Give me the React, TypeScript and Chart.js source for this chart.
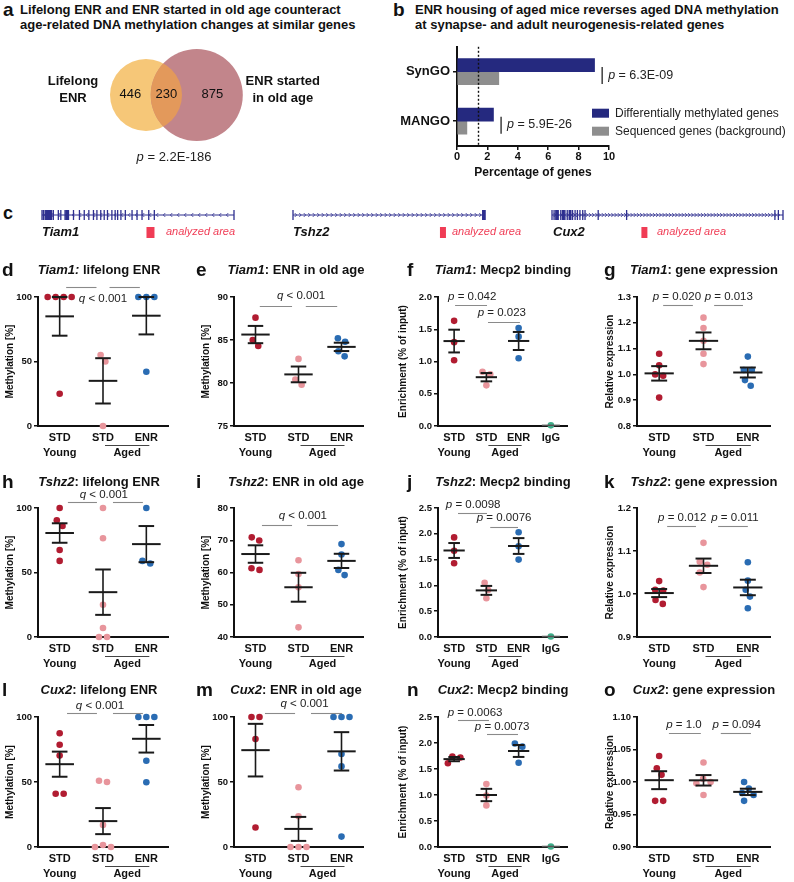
import React, { useEffect, useRef } from "react";
import { Chart, registerables } from "chart.js";

Chart.register(...registerables);

const FONT = '"Liberation Sans", Arial, Helvetica, sans-serif';
Chart.defaults.font.family = FONT;
Chart.defaults.color = "#111";

/* ===================== DATA ===================== */
// a – Venn
const vennLabels = ["Lifelong ENR", "ENR started in old age"];
const vennOnlyLifelong = 446;
const vennShared = 230;
const vennOnlyOldAge = 875;
const vennPValue = "2.2E-186";

// b – bar chart
const bCategories = ["SynGO", "MANGO"];
const bSeriesNames = ["Differentially methylated genes", "Sequenced genes (background)"];
const bDiffMethylated = [9.05, 2.4];
const bBackground = [2.75, 0.65];
const bPValues = ["6.3E-09", "5.9E-26"];
const bReferenceLine = 1.35;
const bAxisTitle = "Percentage of genes";

// c – gene models (exon positions in % of gene length)
const geneNames = ["Tiam1", "Tshz2", "Cux2"];
const tiam1Exons = [0, 0.7, 1.6, 2.4, 3.3, 4.2, 5.0, 5.9, 8.5, 9.8, 12.0, 12.9, 13.8, 16.4, 19.5, 22.0, 24.4, 26.8, 28.6, 30.6, 32.4, 34.1, 36.4, 38.1, 39.4, 41.1, 43.4, 46.9, 49.5, 52.1, 55.6, 58.5, 100];
const tiam1Thick = [2.4, 3.3, 4.2, 12.9];
const tshz2Exons = [0, 98.8, 99.4, 100];
const tshz2Thick = [99.4];
const cux2Exons = [0, 0.9, 2.0, 2.7, 3.8, 4.9, 5.6, 6.6, 7.8, 8.9, 10.0, 11.0, 12.1, 13.3, 14.3, 20.0, 32.3, 96.5, 98.0, 100];
const cux2Thick = [2.0, 4.9, 7.8];
const analyzedAreaPos = [56.5, 78.1, 40.0];
const analyzedLabel = "analyzed area";

// d–o – categories
const catLabels3 = ["STD", "STD", "ENR"];
const catLabels4 = ["STD", "STD", "ENR", "IgG"];
const groupLabels = ["Young", "Aged"];
const yTitleMeth = "Methylation [%]";
const yTitleEnrich = "Enrichment (% of input)";
const yTitleExpr = "Relative expression";

// d
const dYoung = [100, 100, 100, 100, 25];
const dAgedStd = [55, 50, 0];
const dAgedEnr = [100, 100, 100, 42];
const dBrackets = [[0.15, 0.85, 107.7], [1.15, 1.85, 107.7]];
const dStats = [[1.0, 98.5, "q", " < 0.001"]];
// e
const eYoung = [87.6, 85.0, 84.3];
const eAgedStd = [82.8, 80.4, 79.8];
const eAgedEnr = [85.2, 84.8, 83.7, 83.1];
const eBrackets = [[0.1, 0.85, 88.95], [1.17, 1.9, 88.95]];
const eStats = [[1.06, 90.1, "q", " < 0.001"]];
// f
const fYoung = [1.63, 1.30, 1.02];
const fAgedStd = [0.84, 0.80, 0.63];
const fAgedEnr = [1.52, 1.385, 1.05];
const fIgG = [0.01];
const fBrackets = [[0.03, 1.02, 1.876], [1.05, 2.04, 1.612]];
const fStats = [[0.56, 2.0, "p", " = 0.042"], [1.48, 1.752, "p", " = 0.023"]];
// g
const gYoung = [1.08, 1.035, 1.0, 0.995, 0.91];
const gAgedStd = [1.22, 1.18, 1.13, 1.08, 1.04];
const gAgedEnr = [1.069, 1.017, 1.017, 0.978, 0.956];
const gBrackets = [[0.09, 0.76, 1.269], [1.24, 1.89, 1.269]];
const gStats = [[0.4, 1.3, "p", " = 0.020"], [1.57, 1.3, "p", " = 0.013"]];
// h
const hYoung = [100, 90.5, 86, 67.5, 59];
const hAgedStd = [100, 76.5, 25, 7, 0, 0];
const hAgedEnr = [100, 59, 57];
const hBrackets = [[0.19, 0.86, 104.7], [1.23, 1.92, 104.7]];
const hStats = [[1.02, 110.1, "q", " < 0.001"]];
// i
const iYoung = [70.9, 69.9, 61.3, 60.8];
const iAgedStd = [63.8, 59.5, 55.4, 43];
const iAgedEnr = [68.8, 65.6, 60.8, 59.2];
const iBrackets = [[0.15, 0.85, 74.7], [1.2, 1.92, 74.7]];
const iStats = [[1.1, 77.5, "q", " < 0.001"]];
// j
const jYoung = [1.93, 1.67, 1.43];
const jAgedStd = [1.05, 0.91, 0.75];
const jAgedEnr = [2.03, 1.76, 1.50];
const jIgG = [0.01];
const jBrackets = [[0.12, 1.02, 2.403], [1.12, 1.98, 2.132]];
const jStats = [[0.59, 2.558, "p", " = 0.0098"], [1.55, 2.306, "p", " = 0.0076"]];
// k
const kYoung = [1.03, 1.01, 1.008, 0.986, 0.977];
const kAgedStd = [1.119, 1.075, 1.068, 1.05, 1.016];
const kAgedEnr = [1.074, 1.031, 1.01, 0.994, 0.967];
const kBrackets = [[0.18, 0.83, 1.158], [1.33, 2.0, 1.158]];
const kStats = [[0.52, 1.177, "p", " = 0.012"], [1.71, 1.177, "p", " = 0.011"]];
// l
const lYoung = [87.5, 78.7, 70.3, 41, 41];
const lAgedStd = [51, 50, 17, 1.5, 0, 0];
const lAgedEnr = [100, 100, 100, 66.4, 49.8];
const lBrackets = [[0.17, 0.86, 103], [1.23, 1.92, 103]];
const lStats = [[0.93, 108.4, "q", " < 0.001"]];
// m
const mYoung = [100, 100, 83, 15];
const mAgedStd = [46, 23.6, 0, 0, 0];
const mAgedEnr = [100, 100, 100, 71.5, 62, 8];
const mBrackets = [[0.22, 0.92, 103], [1.29, 2.01, 103]];
const mStats = [[1.14, 110, "q", " < 0.001"]];
// n
const nYoung = [1.74, 1.72, 1.61];
const nAgedStd = [1.21, 0.99, 0.80];
const nAgedEnr = [1.99, 1.93, 1.62];
const nIgG = [0.01];
const nBrackets = [[0.12, 1.08, 2.443], [1.02, 1.98, 2.175]];
const nStats = [[0.65, 2.576, "p", " = 0.0063"], [1.49, 2.309, "p", " = 0.0073"]];
// o
const oYoung = [1.04, 1.021, 1.011, 0.971, 0.971];
const oAgedStd = [1.03, 1.005, 1.0, 0.998, 0.98];
const oAgedEnr = [1.0, 0.99, 0.983, 0.98, 0.971];
const oBrackets = [[0.22, 0.94, 1.0756], [1.39, 2.07, 1.0756]];
const oStats = [[0.56, 1.088, "p", " = 1.0"], [1.75, 1.088, "p", " = 0.094"]];

/* ===================== STYLE / LAYOUT ===================== */
const C_YOUNG = "#b11c31";
const C_AGED = "#e8959c";
const C_ENR = "#2a6cb3";
const C_IGG = "#3dad89";
const C_NAVY = "#25297f";
const C_GREY = "#8e8e8e";
const C_TRACK = "#2e2f8f";
const C_RED = "#f03c55";
const C_V_YELLOW = "#f6c778";
const C_V_RED = "#c2858b";
const C_V_OVERLAP = "#e3995b";
const INK = "#111";

const ROWS = [
  { top: 297, bottom: 426, title: 270 },
  { top: 508, bottom: 637, title: 482 },
  { top: 717, bottom: 847, title: 690 },
];
const COLS = [
  { left: 0, axisX: 38, axisEnd: 168, yTitlePad: 4, letterX: 2, titleX: 99 },
  { left: 196, axisX: 234, axisEnd: 363, yTitlePad: 4, letterX: 196, titleX: 296 },
  { left: 396, axisX: 438, axisEnd: 567, yTitlePad: 1, letterX: 407, titleX: 503 },
  { left: 598, axisX: 637, axisEnd: 770, yTitlePad: 6, letterX: 604, titleX: 704 },
];
const PADT = 30;
const PADB = 40;
const PADR = 14;

const PANELS: any[] = [
  { letter: "d", gene: "Tiam1", rest: " lifelong ENR", colonItalic: true, row: 0, col: 0, groups: [dYoung, dAgedStd, dAgedEnr], yMin: 0, yMax: 100, yStep: 50, dec: 0, yTitle: yTitleMeth, brackets: dBrackets, stats: dStats },
  { letter: "e", gene: "Tiam1", rest: ": ENR in old age", row: 0, col: 1, groups: [eYoung, eAgedStd, eAgedEnr], yMin: 75, yMax: 90, yStep: 5, dec: 0, yTitle: yTitleMeth, brackets: eBrackets, stats: eStats },
  { letter: "f", gene: "Tiam1", rest: ": Mecp2 binding", row: 0, col: 2, groups: [fYoung, fAgedStd, fAgedEnr, fIgG], yMin: 0, yMax: 2, yStep: 0.5, dec: 1, yTitle: yTitleEnrich, brackets: fBrackets, stats: fStats },
  { letter: "g", gene: "Tiam1", rest: ": gene expression", row: 0, col: 3, groups: [gYoung, gAgedStd, gAgedEnr], yMin: 0.8, yMax: 1.3, yStep: 0.1, dec: 1, yTitle: yTitleExpr, brackets: gBrackets, stats: gStats },
  { letter: "h", gene: "Tshz2", rest: ": lifelong ENR", row: 1, col: 0, groups: [hYoung, hAgedStd, hAgedEnr], yMin: 0, yMax: 100, yStep: 50, dec: 0, yTitle: yTitleMeth, brackets: hBrackets, stats: hStats },
  { letter: "i", gene: "Tshz2", rest: ": ENR in old age", row: 1, col: 1, groups: [iYoung, iAgedStd, iAgedEnr], yMin: 40, yMax: 80, yStep: 10, dec: 0, yTitle: yTitleMeth, brackets: iBrackets, stats: iStats },
  { letter: "j", gene: "Tshz2", rest: ": Mecp2 binding", row: 1, col: 2, groups: [jYoung, jAgedStd, jAgedEnr, jIgG], yMin: 0, yMax: 2.5, yStep: 0.5, dec: 1, yTitle: yTitleEnrich, brackets: jBrackets, stats: jStats },
  { letter: "k", gene: "Tshz2", rest: ": gene expression", row: 1, col: 3, groups: [kYoung, kAgedStd, kAgedEnr], yMin: 0.9, yMax: 1.2, yStep: 0.1, dec: 1, yTitle: yTitleExpr, brackets: kBrackets, stats: kStats },
  { letter: "l", gene: "Cux2", rest: ": lifelong ENR", row: 2, col: 0, groups: [lYoung, lAgedStd, lAgedEnr], yMin: 0, yMax: 100, yStep: 50, dec: 0, yTitle: yTitleMeth, brackets: lBrackets, stats: lStats },
  { letter: "m", gene: "Cux2", rest: ": ENR in old age", row: 2, col: 1, groups: [mYoung, mAgedStd, mAgedEnr], yMin: 0, yMax: 100, yStep: 50, dec: 0, yTitle: yTitleMeth, brackets: mBrackets, stats: mStats },
  { letter: "n", gene: "Cux2", rest: ": Mecp2 binding", row: 2, col: 2, groups: [nYoung, nAgedStd, nAgedEnr, nIgG], yMin: 0, yMax: 2.5, yStep: 0.5, dec: 1, yTitle: yTitleEnrich, brackets: nBrackets, stats: nStats },
  { letter: "o", gene: "Cux2", rest: ": gene expression", row: 2, col: 3, groups: [oYoung, oAgedStd, oAgedEnr], yMin: 0.9, yMax: 1.1, yStep: 0.05, dec: 2, yTitle: yTitleExpr, brackets: oBrackets, stats: oStats },
];

const GENES: any[] = [
  { name: geneNames[0], start: 42, end: 234, exons: tiam1Exons, thick: tiam1Thick, analyzed: analyzedAreaPos[0], strand: -1, step: 7, boxW: 8, labelX: 42, areaX: 166 },
  { name: geneNames[1], start: 293, end: 485, exons: tshz2Exons, thick: tshz2Thick, analyzed: analyzedAreaPos[1], strand: 1, step: 4.5, boxW: 6, labelX: 293, areaX: 452 },
  { name: geneNames[2], start: 552, end: 783, exons: cux2Exons, thick: cux2Thick, analyzed: analyzedAreaPos[2], strand: 1, step: 3.2, boxW: 6, labelX: 553, areaX: 657 },
];
const GENE_TOP = 205;
const GENE_H = 40;
const TRACK_Y = 0.5;
const BOX_Y = -0.375;

const VENN = { left: 0, top: 40, w: 390, h: 132, cx1: 146, cy: 95, r1: 36 };

/* ===================== HELPERS ===================== */
function swarm(values: number[], pxPerVal: number, D = 8): number[] {
  const idx = values.map((_, i) => i).sort((a, b) => values[b] - values[a]);
  const placed: { x: number; y: number }[] = [];
  const off = new Array(values.length).fill(0);
  for (const i of idx) {
    const y = values[i] * pxPerVal;
    let chosen = 0;
    for (let k = 0; k < 400; k++) {
      const cand = k === 0 ? 0 : (k % 2 === 1 ? 1 : -1) * Math.ceil(k / 2) * 0.25;
      if (placed.every((p) => Math.hypot(p.x - cand, p.y - y) >= D)) {
        chosen = cand;
        break;
      }
    }
    placed.push({ x: chosen, y });
    off[i] = chosen;
  }
  let cluster: number[] = [];
  const flush = () => {
    if (cluster.length > 1) {
      const xs = cluster.map((i) => off[i]);
      const c = (Math.max(...xs) + Math.min(...xs)) / 2;
      cluster.forEach((i) => (off[i] -= c));
    }
    cluster = [];
  };
  idx.forEach((i, n) => {
    if (n > 0 && (values[idx[n - 1]] - values[i]) * pxPerVal >= D) flush();
    cluster.push(i);
  });
  flush();
  return off;
}

function circleOverlap(r1: number, r2: number, d: number) {
  if (d >= r1 + r2) return 0;
  if (d <= Math.abs(r1 - r2)) return Math.PI * Math.min(r1, r2) ** 2;
  const a = r1 * r1 * Math.acos((d * d + r1 * r1 - r2 * r2) / (2 * d * r1));
  const b = r2 * r2 * Math.acos((d * d + r2 * r2 - r1 * r1) / (2 * d * r2));
  const c = 0.5 * Math.sqrt((-d + r1 + r2) * (d + r1 - r2) * (d - r1 + r2) * (d + r1 + r2));
  return a + b - c;
}
function solveDistance(r1: number, r2: number, target: number) {
  let lo = Math.abs(r1 - r2), hi = r1 + r2;
  for (let k = 0; k < 60; k++) {
    const mid = (lo + hi) / 2;
    if (circleOverlap(r1, r2, mid) > target) lo = mid;
    else hi = mid;
  }
  return (lo + hi) / 2;
}

function line(ctx: CanvasRenderingContext2D, x1: number, y1: number, x2: number, y2: number) {
  ctx.beginPath();
  ctx.moveTo(x1, y1);
  ctx.lineTo(x2, y2);
  ctx.stroke();
}

function statText(ctx: CanvasRenderingContext2D, cx: number, cy: number, stat: string, rest: string, size: number, align = "center") {
  ctx.textBaseline = "middle";
  ctx.textAlign = "left";
  ctx.font = `italic ${size}px ${FONT}`;
  const w1 = ctx.measureText(stat).width;
  ctx.font = `${size}px ${FONT}`;
  const w2 = ctx.measureText(rest).width;
  const x0 = align === "center" ? cx - (w1 + w2) / 2 : cx;
  ctx.font = `italic ${size}px ${FONT}`;
  ctx.fillText(stat, x0, cy);
  ctx.font = `${size}px ${FONT}`;
  ctx.fillText(rest, x0 + w1, cy);
}

const common = {
  animation: false,
  responsive: false,
  maintainAspectRatio: false,
  devicePixelRatio: 1,
  events: [],
};

/* ===================== CONFIGS ===================== */
function vennConfig() {
  const n1 = vennOnlyLifelong + vennShared;
  const n2 = vennOnlyOldAge + vennShared;
  const k = VENN.r1 / Math.sqrt(n1);
  const r1 = VENN.r1;
  const r2 = k * Math.sqrt(n2);
  const d = solveDistance(r1, r2, Math.PI * k * k * vennShared);
  const cx1 = VENN.cx1;
  const cx2 = cx1 + d;
  return {
    type: "bubble",
    data: {
      datasets: [
        { label: vennLabels[1], data: [{ x: cx2, y: VENN.cy, r: r2 }], backgroundColor: C_V_RED, borderWidth: 0, clip: false },
        { label: vennLabels[0], data: [{ x: cx1, y: VENN.cy, r: r1 }], backgroundColor: C_V_YELLOW, borderWidth: 0, clip: false },
      ],
    },
    options: {
      ...common,
      layout: { padding: 0, autoPadding: false },
      scales: {
        x: { display: false, min: VENN.left, max: VENN.left + VENN.w },
        y: { display: false, min: VENN.top, max: VENN.top + VENN.h, reverse: true },
      },
      plugins: { legend: { display: false }, tooltip: { enabled: false } },
    },
    plugins: [
      {
        id: "vennDeco",
        afterDatasetsDraw(chart: any) {
          const ctx = chart.ctx;
          const eR = chart.getDatasetMeta(0).data[0];
          const eY = chart.getDatasetMeta(1).data[0];
          const rY = eY.options.radius, rR = eR.options.radius;
          ctx.save();
          ctx.beginPath();
          ctx.arc(eY.x, eY.y, rY, 0, Math.PI * 2);
          ctx.clip();
          ctx.beginPath();
          ctx.arc(eR.x, eR.y, rR, 0, Math.PI * 2);
          ctx.fillStyle = C_V_OVERLAP;
          ctx.fill();
          ctx.restore();
          ctx.save();
          ctx.fillStyle = INK;
          ctx.textAlign = "center";
          ctx.textBaseline = "middle";
          ctx.font = `13px ${FONT}`;
          const ny = eY.y - 1;
          ctx.fillText(String(vennOnlyLifelong), (eY.x - rY + eR.x - rR) / 2, ny);
          ctx.fillText(String(vennShared), (eR.x - rR + eY.x + rY) / 2, ny);
          ctx.fillText(String(vennOnlyOldAge), (eY.x + rY + eR.x + rR) / 2, ny);
          ctx.font = `bold 13px ${FONT}`;
          const lx = eY.x - rY - 37;
          const l1 = vennLabels[0].split(" ");
          ctx.fillText(l1[0], lx, eY.y - 14);
          ctx.fillText(l1.slice(1).join(" "), lx, eY.y + 3);
          const rx = eR.x + rR + 40;
          ctx.fillText("ENR started", rx, eY.y - 14);
          ctx.fillText("in old age", rx, eY.y + 3);
          ctx.fillStyle = "#222";
          statText(ctx, 174, chart.scales.y.getPixelForValue(157), "p", " = " + vennPValue, 13);
          ctx.restore();
        },
      },
    ],
  };
}

function barConfig() {
  return {
    type: "bar",
    data: {
      labels: bCategories,
      datasets: [
        { label: bSeriesNames[0], data: bDiffMethylated, backgroundColor: C_NAVY, barThickness: 13, categoryPercentage: 0.78 },
        { label: bSeriesNames[1], data: bBackground, backgroundColor: C_GREY, barThickness: 13, categoryPercentage: 0.78 },
      ],
    },
    options: {
      ...common,
      indexAxis: "y",
      layout: { padding: { top: 8, right: 185, left: 0, bottom: 0 }, autoPadding: false },
      plugins: { legend: { display: false }, tooltip: { enabled: false } },
      scales: {
        x: {
          min: 0,
          max: 10,
          ticks: { stepSize: 2, font: { size: 11, weight: "bold" }, color: INK, padding: 0 },
          grid: { display: true, drawOnChartArea: false, drawTicks: true, tickLength: 4, color: INK, lineWidth: 1.5 },
          border: { display: true, color: INK, width: 2 },
          title: { display: true, text: bAxisTitle, font: { size: 12, weight: "bold" }, color: INK, padding: { top: 0, bottom: 0 } },
          afterFit: (s: any) => { s.height = 34; },
        },
        y: {
          ticks: { font: { size: 13, weight: "bold" }, color: INK, padding: 3 },
          grid: { display: true, offset: false, drawOnChartArea: false, drawTicks: true, tickLength: 4, color: INK, lineWidth: 1.5 },
          border: { display: true, color: INK, width: 2 },
          afterFit: (s: any) => { s.width = 64; },
        },
      },
    },
    plugins: [
      {
        id: "barDeco",
        afterDatasetsDraw(chart: any) {
          const { ctx, chartArea: ca, scales } = chart;
          const x = scales.x, y = scales.y;
          ctx.save();
          ctx.strokeStyle = INK;
          ctx.lineWidth = 1.4;
          ctx.setLineDash([2, 2]);
          const xr = Math.round(x.getPixelForValue(bReferenceLine)) + 0.5;
          line(ctx, xr, ca.top, xr, ca.bottom);
          ctx.setLineDash([]);
          const m0 = chart.getDatasetMeta(0), m1 = chart.getDatasetMeta(1);
          bCategories.forEach((_, i) => {
            const yt = m0.data[i].y, yb = m1.data[i].y;
            const xv = x.getPixelForValue(Math.max(bDiffMethylated[i], bBackground[i]) + 0.5);
            ctx.strokeStyle = "#222";
            ctx.lineWidth = 1.3;
            line(ctx, xv, yt + 2, xv, yb + 6);
            ctx.fillStyle = "#222";
            statText(ctx, xv + 6, yt + 10, "p", " = " + bPValues[i], 12.5, "left");
          });
          // legend
          const yc = y.getPixelForValue(1);
          const boxes = [
            { c: C_NAVY, t: bSeriesNames[0], top: yc - 12.5 },
            { c: C_GREY, t: bSeriesNames[1], top: yc + 5.5 },
          ];
          boxes.forEach((b) => {
            ctx.fillStyle = b.c;
            ctx.fillRect(ca.right - 17, b.top, 17, 9);
            ctx.fillStyle = "#222";
            ctx.font = `12px ${FONT}`;
            ctx.textAlign = "left";
            ctx.textBaseline = "middle";
            ctx.fillText(b.t, ca.right + 6, b.top + 4.5);
          });
          ctx.restore();
        },
      },
    ],
  };
}

function geneConfig(g: any) {
  return {
    type: "scatter",
    data: {
      datasets: [
        { data: [{ x: 0, y: TRACK_Y }, { x: 100, y: TRACK_Y }], showLine: true, borderColor: C_TRACK, borderWidth: 1, pointRadius: 0, clip: false },
        { data: g.exons.map((x: number) => ({ x, y: TRACK_Y })), pointStyle: "line", pointRotation: 90, pointRadius: 5, pointBorderColor: C_TRACK, pointBorderWidth: 1.3, clip: false },
        { data: g.thick.map((x: number) => ({ x, y: TRACK_Y })), pointStyle: "line", pointRotation: 90, pointRadius: 5, pointBorderColor: C_TRACK, pointBorderWidth: 3, clip: false },
        { data: [{ x: g.analyzed, y: BOX_Y }], pointStyle: "line", pointRotation: 90, pointRadius: 5.5, pointBorderColor: C_RED, pointBorderWidth: g.boxW, clip: false },
      ],
    },
    options: {
      ...common,
      layout: { padding: { left: 5, right: 5, top: 0, bottom: 0 }, autoPadding: false },
      scales: {
        x: { display: false, min: 0, max: 100 },
        y: { display: false, min: -1, max: 1 },
      },
      plugins: { legend: { display: false }, tooltip: { enabled: false } },
    },
    plugins: [
      {
        id: "chevrons",
        beforeDatasetsDraw(chart: any) {
          const { ctx, scales } = chart;
          const x0 = scales.x.getPixelForValue(0), x1 = scales.x.getPixelForValue(100);
          const yc = scales.y.getPixelForValue(TRACK_Y);
          ctx.save();
          ctx.strokeStyle = C_TRACK;
          ctx.lineWidth = 0.8;
          for (let px = x0 + 3; px < x1 - 2; px += g.step) {
            ctx.beginPath();
            ctx.moveTo(px - g.strand * 1.3, yc - 2);
            ctx.lineTo(px + g.strand * 0.7, yc);
            ctx.lineTo(px - g.strand * 1.3, yc + 2);
            ctx.stroke();
          }
          ctx.restore();
        },
      },
    ],
  };
}

function panelConfig(p: any) {
  const col = COLS[p.col], row = ROWS[p.row];
  const n = p.groups.length;
  const pxPerCat = (col.axisEnd - col.axisX) / n;
  const pxPerVal = (row.bottom - row.top) / (p.yMax - p.yMin);
  const colors = n === 4 ? [C_YOUNG, C_AGED, C_ENR, C_IGG] : [C_YOUNG, C_AGED, C_ENR];
  const cats = n === 4 ? catLabels4 : catLabels3;
  const meanHalf = pxPerCat * 0.33;
  const capHalf = pxPerCat * 0.18;
  return {
    type: "scatter",
    data: {
      datasets: p.groups.map((vals: number[], g: number) => {
        const offs = swarm(vals, pxPerVal);
        return {
          label: cats[g],
          data: vals.map((v, i) => ({ x: g + offs[i] / pxPerCat, y: v })),
          backgroundColor: colors[g],
          pointBackgroundColor: colors[g],
          pointBorderWidth: 0,
          pointRadius: 3.3,
          pointHoverRadius: 3.3,
          clip: false,
        };
      }),
    },
    options: {
      ...common,
      layout: { padding: { left: 0, right: PADR, top: PADT, bottom: 0 }, autoPadding: false },
      plugins: { legend: { display: false }, tooltip: { enabled: false } },
      scales: {
        x: {
          type: "linear",
          min: -0.5,
          max: n - 0.5,
          ticks: { display: false },
          grid: { display: false },
          border: { display: true, color: INK, width: 2 },
          afterFit: (s: any) => { s.height = PADB; },
        },
        y: {
          min: p.yMin,
          max: p.yMax,
          ticks: {
            stepSize: p.yStep,
            font: { size: 9.5, weight: "bold" },
            color: INK,
            padding: 2,
            callback: (v: any) => Number(v).toFixed(p.dec),
          },
          grid: { display: true, drawOnChartArea: false, drawTicks: true, tickLength: 4, color: INK, lineWidth: 1.5 },
          border: { display: true, color: INK, width: 2 },
          title: { display: true, text: p.yTitle, font: { size: 10, weight: "bold" }, color: INK, padding: { top: col.yTitlePad, bottom: 0 } },
          afterFit: (s: any) => { s.width = col.axisX - col.left; },
        },
      },
    },
    plugins: [
      {
        id: "panelDeco",
        afterDatasetsDraw(chart: any) {
          const { ctx, scales } = chart;
          const x = scales.x, y = scales.y;
          ctx.save();
          p.groups.forEach((vals: number[], g: number) => {
            const m = vals.length;
            const mean = vals.reduce((a, b) => a + b, 0) / m;
            const cx = x.getPixelForValue(g);
            const my = y.getPixelForValue(mean);
            const igg = cats[g] === "IgG";
            ctx.strokeStyle = igg ? "#555" : "#1a1a1a";
            ctx.lineWidth = igg ? 1.5 : 2;
            const mh = igg ? meanHalf * 0.85 : meanHalf;
            line(ctx, cx - mh, my, cx + mh, my);
            if (m > 1) {
              const sd = Math.sqrt(vals.reduce((a, v) => a + (v - mean) ** 2, 0) / (m - 1));
              const sem = sd / Math.sqrt(m);
              const y1 = y.getPixelForValue(mean + sem), y2 = y.getPixelForValue(mean - sem);
              ctx.lineWidth = 1.6;
              line(ctx, cx, y1, cx, y2);
              ctx.lineWidth = 2;
              line(ctx, cx - capHalf, y1, cx + capHalf, y1);
              line(ctx, cx - capHalf, y2, cx + capHalf, y2);
            }
          });
          ctx.restore();
        },
        afterDraw(chart: any) {
          const { ctx, chartArea: ca, scales } = chart;
          const x = scales.x, y = scales.y;
          ctx.save();
          ctx.fillStyle = INK;
          ctx.textAlign = "center";
          ctx.textBaseline = "middle";
          ctx.font = `bold 11px ${FONT}`;
          cats.forEach((c: string, i: number) => ctx.fillText(c, x.getPixelForValue(i), ca.bottom + 12));
          ctx.fillText(groupLabels[0], x.getPixelForValue(0), ca.bottom + 27);
          const a1 = x.getPixelForValue(1) + 2, a2 = x.getPixelForValue(2) + 3;
          ctx.fillText(groupLabels[1], (a1 + a2) / 2, ca.bottom + 27);
          ctx.strokeStyle = "#444";
          ctx.lineWidth = 1;
          line(ctx, a1, ca.bottom + 19.5, a2, ca.bottom + 19.5);
          // brackets
          ctx.strokeStyle = "#8a8a8a";
          ctx.lineWidth = 1.1;
          p.brackets.forEach((b: number[]) => {
            const yy = Math.round(y.getPixelForValue(b[2])) + 0.5;
            line(ctx, x.getPixelForValue(b[0]), yy, x.getPixelForValue(b[1]), yy);
          });
          ctx.fillStyle = "#222";
          p.stats.forEach((s: any[]) => {
            statText(ctx, x.getPixelForValue(s[0]), y.getPixelForValue(s[1]), s[2], s[3], 11.5);
          });
          ctx.restore();
        },
      },
    ],
  };
}

/* ===================== COMPONENTS ===================== */
function ChartCanvas(props: { left: number; top: number; width: number; height: number; make: () => any }) {
  const ref = useRef<HTMLCanvasElement | null>(null);
  useEffect(() => {
    if (!ref.current) return;
    const chart = new Chart(ref.current, props.make());
    return () => chart.destroy();
  }, []);
  const { left, top, width, height } = props;
  return <canvas ref={ref} width={width} height={height} style={{ position: "absolute", left, top, width, height }} />;
}

function Txt(props: { x: number; y: number; size: number; bold?: boolean; italic?: boolean; color?: string; center?: boolean; children: any }) {
  const { x, y, size, bold, italic, color, center, children } = props;
  return (
    <div
      style={{
        position: "absolute",
        left: x,
        top: y - size * 0.6,
        fontSize: size,
        lineHeight: `${size * 1.2}px`,
        fontWeight: bold ? 700 : 400,
        fontStyle: italic ? "italic" : "normal",
        color: color || INK,
        whiteSpace: "nowrap",
        fontFamily: FONT,
        transform: center ? "translateX(-50%)" : undefined,
      }}
    >
      {children}
    </div>
  );
}

export default function App() {
  return (
    <div style={{ position: "absolute", left: 0, top: 0, width: 794, height: 882, background: "#fff", overflow: "hidden", fontFamily: FONT }}>
      {/* a */}
      <ChartCanvas left={VENN.left} top={VENN.top} width={VENN.w} height={VENN.h} make={vennConfig} />
      <Txt x={3} y={10} size={19} bold>a</Txt>
      <Txt x={20} y={10} size={13} bold>Lifelong ENR and ENR started in old age counteract</Txt>
      <Txt x={20} y={25} size={13} bold>age-related DNA methylation changes at similar genes</Txt>

      {/* b */}
      <ChartCanvas left={393} top={36} width={401} height={144} make={barConfig} />
      <Txt x={393} y={10} size={19} bold>b</Txt>
      <Txt x={415} y={10} size={13} bold>ENR housing of aged mice reverses aged DNA methylation</Txt>
      <Txt x={415} y={25} size={13} bold>at synapse- and adult neurogenesis-related genes</Txt>

      {/* c */}
      <Txt x={3} y={214} size={18} bold>c</Txt>
      {GENES.map((g) => (
        <React.Fragment key={g.name}>
          <ChartCanvas left={g.start - 5} top={GENE_TOP} width={g.end - g.start + 10} height={GENE_H} make={() => geneConfig(g)} />
          <Txt x={g.labelX} y={232} size={13} bold italic>{g.name}</Txt>
          <Txt x={g.areaX} y={232} size={11} italic color={C_RED}>{analyzedLabel}</Txt>
        </React.Fragment>
      ))}

      {/* d–o */}
      {PANELS.map((p) => {
        const col = COLS[p.col], row = ROWS[p.row];
        const w = col.axisEnd + PADR - col.left;
        const h = PADT + (row.bottom - row.top) + PADB;
        return (
          <React.Fragment key={p.letter}>
            <ChartCanvas left={col.left} top={row.top - PADT} width={w} height={h} make={() => panelConfig(p)} />
            <Txt x={col.letterX} y={row.title} size={19} bold>{p.letter}</Txt>
            <Txt x={col.titleX} y={row.title} size={13} bold center>
              {p.colonItalic ? <i>{p.gene}:</i> : <i>{p.gene}</i>}
              {p.rest}
            </Txt>
          </React.Fragment>
        );
      })}
    </div>
  );
}
